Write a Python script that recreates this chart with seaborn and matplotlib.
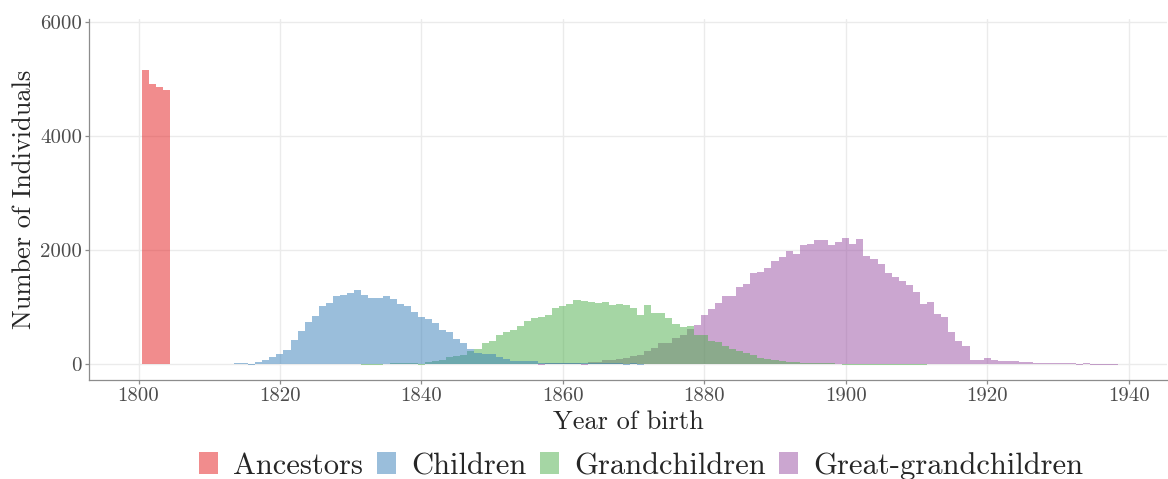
import numpy as np
import pandas as pd
import seaborn as sns
import matplotlib.pyplot as plt
from matplotlib.patches import Patch

# --- data: counts per birth year ---
GENERATIONS = ["Ancestors", "Children", "Grandchildren", "Great-grandchildren"]

ancestors_start = 1801
ancestors_counts = [5150, 4910, 4860, 4800]

children_start = 1814
children_counts = [12, 12, -15, 35, 64, 120, 172, 240, 415, 575, 730, 835, 1010, 1065,
                   1185, 1205, 1240, 1290, 1205, 1150, 1150, 1185, 1135, 1045, 1010, 905,
                   820, 785, 715, 590, 555, 435, 365, 257, 187, 170, 170, 117, 82, 47,
                   47, 47, 47, 20, 10, 10, 10, 10, 10, 10, 10, 10, 10, 10, 10, -10, 10, -10]

grandchildren_start = 1832
grandchildren_counts = [-10, -10, -10, 5, 10, 10, 10, 10, -15, 29, 47, 64, 117, 135, 152,
                        222, 257, 363, 398, 503, 556, 590, 661, 749, 801, 819, 854, 977,
                        1011, 1047, 1117, 1099, 1082, 1064, 1082, 1029, 1047, 1029, 977,
                        854, 1029, 889, 889, 801, 696, 643, 661, 503, 503, 398, 380, 310,
                        257, 222, 187, 152, 99, 82, 64, 47, 29, 29, 18, 18, 10, 10, 10, 5,
                        -10, -10, -10, -10, -10, -10, -10, -10, -10, -10, -10, -10]

great_start = 1857
great_counts = [-10, 10, 10, 10, 10, 10, -10, 29, 29, 64, 64, 82, 99, 135, 152, 222, 275,
                363, 363, 450, 503, 608, 678, 854, 959, 1064, 1187, 1187, 1345, 1398,
                1590, 1608, 1678, 1801, 1871, 1976, 1924, 2082, 2099, 2169, 2169, 2082,
                2134, 2204, 2099, 2187, 1889, 1836, 1748, 1593, 1523, 1453, 1383, 1260,
                1050, 1085, 874, 822, 558, 400, 316, 64, 64, 99, 64, 47, 47, 47, 29, 29,
                12, 12, 12, 12, 12, 12, -10, 12, -10, -10, -10, -10]

X_TICKS = [1800, 1820, 1840, 1860, 1880, 1900, 1920, 1940]
Y_TICKS = [0, 2000, 4000, 6000]

# --- build long table ---
rows = []
for gen, start, counts in zip(GENERATIONS,
                              [ancestors_start, children_start, grandchildren_start, great_start],
                              [ancestors_counts, children_counts, grandchildren_counts, great_counts]):
    for i, c in enumerate(counts):
        rows.append({"year": start + i, "count": c, "generation": gen})
df = pd.DataFrame(rows)

# --- style ---
sns.set_theme(style="whitegrid")
plt.rcParams['font.family'] = ['cmr10', 'DejaVu Serif']
plt.rcParams['mathtext.fontset'] = 'cm'
plt.rcParams['axes.formatter.use_mathtext'] = True

palette = sns.color_palette("Set1", 4)

fig = plt.figure(figsize=(11.68, 4.79), dpi=100)
ax = fig.add_axes([0.0762, 0.2067, 0.9228, 0.7533])

sns.histplot(data=df, x="year", weights="count", hue="generation",
             hue_order=GENERATIONS, palette=palette, discrete=True,
             element="bars", multiple="layer", alpha=0.5, linewidth=0,
             legend=False, ax=ax)

ax.set_xlim(1793, 1945.4)
ax.set_ylim(-280, 6050)
ax.set_xticks(X_TICKS)
ax.set_yticks(Y_TICKS)
ax.set_xticklabels([str(t) for t in X_TICKS])
ax.set_yticklabels([str(t) for t in Y_TICKS])

ax.grid(True, color="#ebebeb", linewidth=1.0)
ax.set_axisbelow(True)
for side in ["top", "right"]:
    ax.spines[side].set_visible(False)
for side in ["left", "bottom"]:
    ax.spines[side].set_color("#8c8c8c")
    ax.spines[side].set_linewidth(0.9)

ax.tick_params(axis="both", which="major", labelsize=15, labelcolor="#4d4d4d",
               color="#8c8c8c", length=3, width=0.9, direction="out",
               bottom=True, left=True, pad=2)

ax.set_xlabel("Year of birth", fontsize=19, labelpad=4)
ax.set_ylabel("Number of Individuals", fontsize=19, labelpad=3)

handles = [Patch(facecolor=c, alpha=0.5, edgecolor="none") for c in palette]
fig.legend(handles, GENERATIONS, loc="center", bbox_to_anchor=(0.549, 0.027),
           ncol=4, frameon=False, fontsize=22, handlelength=0.62, handleheight=0.72,
           handletextpad=0.5, columnspacing=0.45)

plt.savefig("out.png", dpi=100)
